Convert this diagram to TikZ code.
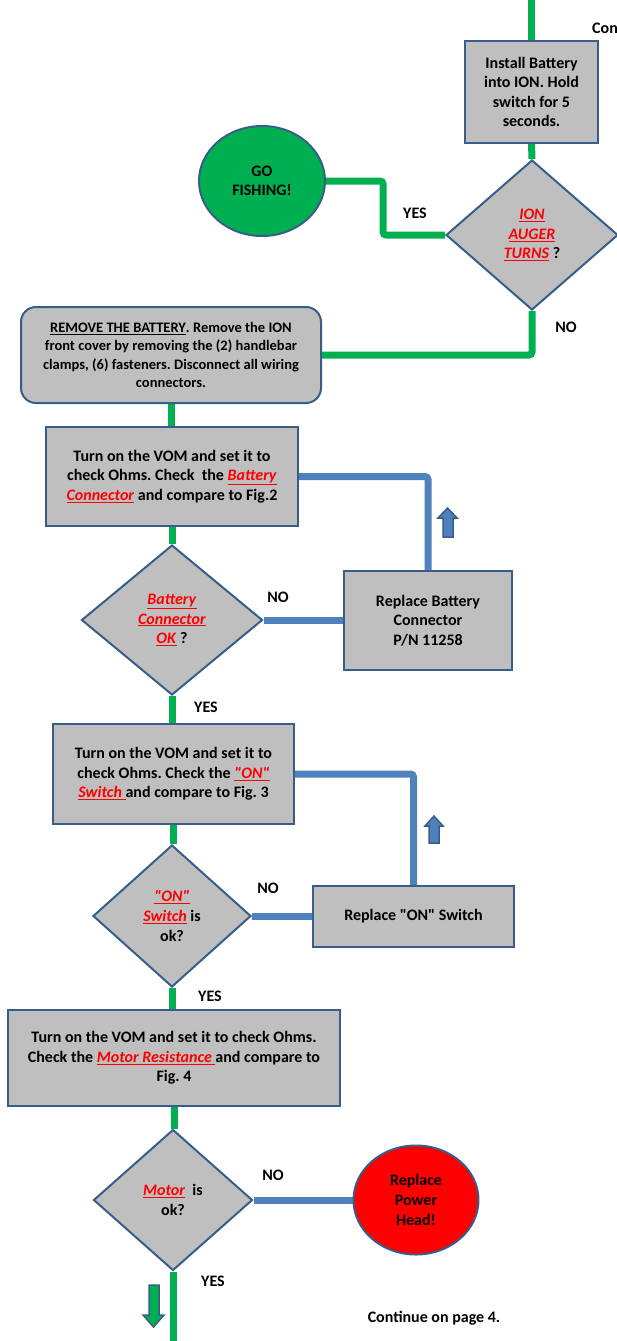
\documentclass[tikz,border=0pt]{standalone}
\usepackage{fontspec}
\setmainfont{Carlito}[Ligatures=TeXOff]
\usetikzlibrary{shapes.geometric,backgrounds}
\frenchspacing
\definecolor{boxgray}{RGB}{191,191,191}
\definecolor{boxedge}{RGB}{56,93,138}
\definecolor{gline}{RGB}{0,176,80}
\definecolor{bline}{RGB}{79,129,189}
\definecolor{fishgreen}{RGB}{0,176,80}
\definecolor{headred}{RGB}{255,0,0}
\newcommand{\rd}[1]{\textcolor{red}{\underline{\textit{#1}}}}
\tikzset{
  base/.style={font=\bfseries\fontsize{16}{19.6}\selectfont, align=center, inner sep=0pt},
  procbox/.style={base, draw=boxedge, line width=2pt, fill=boxgray},
  decision/.style={base, diamond, draw=boxedge, line width=2pt, fill=boxgray},
  terminal/.style={base, ellipse, draw=boxedge, line width=2pt},
  greenline/.style={draw=gline, line width=7pt, rounded corners=3pt},
  blueline/.style={draw=bline, line width=7pt, rounded corners=3pt},
  lbl/.style={font=\bfseries\fontsize{16}{18}\selectfont, inner sep=0pt},
  blockarrow/.style={fill=bline, draw=boxedge, line width=1.5pt, line join=miter}
}
\begin{document}
\begin{tikzpicture}[x=1pt,y=-1pt]
\useasboundingbox (0,0) rectangle (616,1341);

% nodes
\node[procbox, minimum width=133pt, minimum height=102pt] (b1) at (531.5,92) {Install Battery\\into ION. Hold\\switch for 5\\seconds.};
\node[decision, minimum width=172pt, minimum height=150pt] (d1) at (532,235) {\rd{ION}\\\rd{AUGER}\\\rd{TURNS} ?};
\node[terminal, fill=fishgreen, minimum width=126pt, minimum height=110pt] (fish) at (262,181) {GO\\FISHING!};
\node[procbox, rounded corners=15pt, minimum width=300pt, minimum height=96pt, font=\bfseries\fontsize{14.5}{18.5}\selectfont] (remove) at (171,355) {\underline{REMOVE THE BATTERY}. Remove the ION\\front cover by removing the (2) handlebar\\clamps, (6) fasteners. Disconnect all wiring\\connectors.};
\node[procbox, minimum width=252pt, minimum height=99pt] (vom1) at (172,476.5) {Turn on the VOM and set it to\\check Ohms. Check\ \ the \rd{Battery}\\\rd{Connector} and compare to Fig.2};
\node[decision, minimum width=181pt, minimum height=150pt] (d2) at (172,620) {\rd{Battery}\\\rd{Connector}\\\rd{OK} ?};
\node[procbox, minimum width=168pt, minimum height=99pt] (repbat) at (428,620.5) {Replace Battery\\Connector\\P/N 11258};
\node[procbox, minimum width=241pt, minimum height=100pt] (vom2) at (173.5,774) {Turn on the VOM and set it to\\check Ohms. Check the \rd{"ON"}\\\rd{Switch }and compare to Fig. 3};
\node[decision, minimum width=158pt, minimum height=142pt] (d3) at (172,916) {\rd{"ON"}\\\rd{Switch} is\\ok?};
\node[procbox, minimum width=201pt, minimum height=61pt] (repon) at (413.5,916.5) {Replace "ON" Switch};
\node[procbox, minimum width=332pt, minimum height=96pt] (vom3) at (174,1058) {Turn on the VOM and set it to check Ohms.\\Check the \rd{Motor Resistance }and compare to\\Fig. 4};
\node[decision, minimum width=159pt, minimum height=141pt] (d4) at (173,1200) {\rd{Motor}\ \ is\\ok?};
\node[terminal, fill=headred, minimum width=125pt, minimum height=109pt] (head) at (416,1200) {Replace\\Power\\Head!};

% labels
\node[lbl, anchor=west] (con) at (592,28) {Con};
\node[lbl] (yes1) at (415,213) {YES};
\node[lbl] (no1) at (566,327) {NO};
\node[lbl] (no2) at (278,597) {NO};
\node[lbl] (yes2) at (206,707) {YES};
\node[lbl] (no3) at (268,888) {NO};
\node[lbl] (yes3) at (210,996) {YES};
\node[lbl] (no4) at (273,1175) {NO};
\node[lbl] (yes4) at (213,1281) {YES};
\node[lbl] (cont) at (434,1318) {Continue on page 4.};

\coordinate (top) at (531.5,0);
\coordinate (bottom) at (173,1341);

% connectors
\begin{pgfonlayer}{background}
\draw[greenline] (top) -- (b1.north);
\draw[greenline] (b1.south) -- (d1.north);
\draw[greenline] (d1.west) -- ++(-62,0) |- (fish.east);
\draw[greenline] (d1.south) |- (remove.east);
\draw[greenline] (remove.south) -- (remove.south |- vom1.north);
\draw[blueline] (vom1.east) -| (repbat.north);
\draw[greenline] (vom1.south) -- (d2.north);
\draw[blueline] (d2.east) -- (d2.east -| repbat.west);
\draw[greenline] (d2.south) -- (d2.south |- vom2.north);
\draw[blueline] (vom2.east) -| (repon.north);
\draw[greenline] (vom2.south) -- (vom2.south |- d3.north);
\draw[blueline] (d3.east) -- (d3.east -| repon.west);
\draw[greenline] (d3.south) -- (d3.south |- vom3.north);
\draw[greenline] (vom3.south) -- (vom3.south |- d4.north);
\draw[blueline] (d4.east) -- (head.west);
\draw[greenline] (d4.south) -- (bottom);
\end{pgfonlayer}

% block arrows
\draw[blockarrow] (443,537) -- (443,518) -- (438,518) -- (447.5,508) -- (457,518) -- (453,518) -- (453,537) -- cycle;
\draw[blockarrow] (429,843) -- (429,826) -- (425,826) -- (434,816) -- (443,826) -- (439,826) -- (439,843) -- cycle;
\draw[fill=gline, draw=boxedge, line width=1.5pt, line join=miter] (149,1285) -- (149,1315) -- (143,1315) -- (153.5,1327) -- (164,1315) -- (159,1315) -- (159,1285) -- cycle;
\end{tikzpicture}
\end{document}
